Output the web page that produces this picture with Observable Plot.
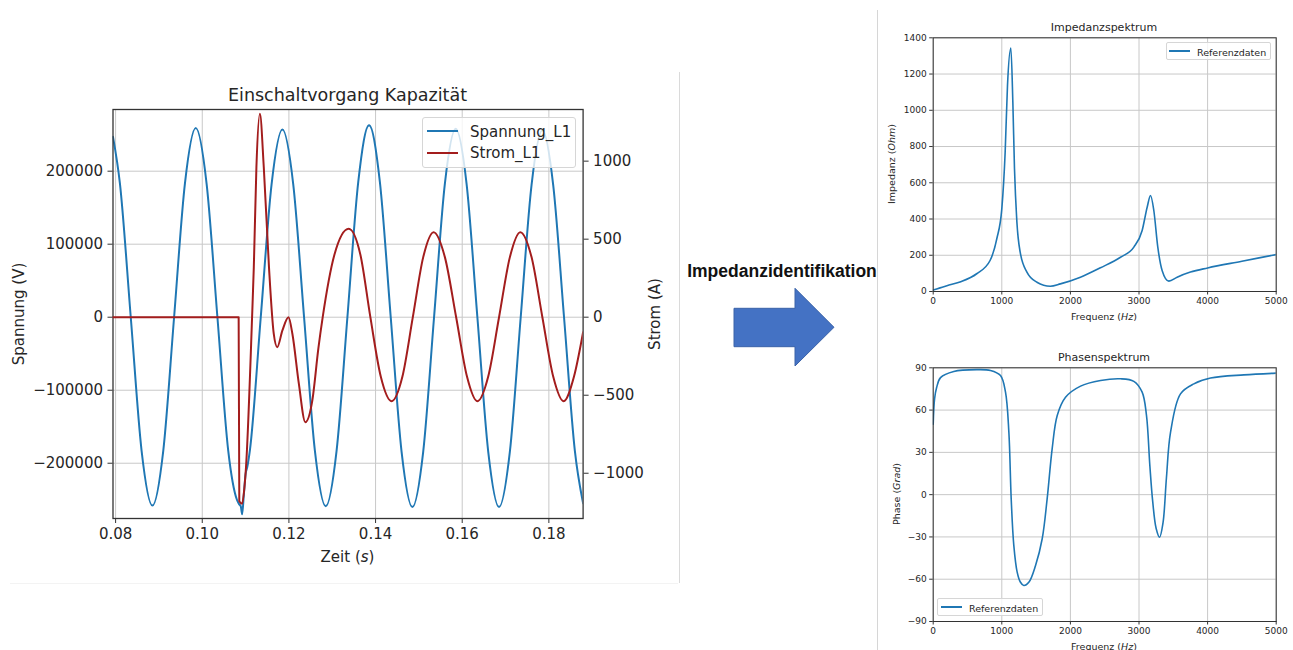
<!DOCTYPE html>
<html>
<head>
<meta charset="utf-8">
<script src="https://cdn.jsdelivr.net/npm/d3@7"></script>
<script src="https://cdn.jsdelivr.net/npm/@observablehq/plot@0.6"></script>
<style>
  html, body { margin: 0; padding: 0; background: #fff; }
  #root { position: relative; width: 1293px; height: 650px; overflow: hidden; font-family: "DejaVu Sans", sans-serif; color: #262626; }
  .abs { position: absolute; }
  .ctr { transform: translate(-50%, -50%); white-space: nowrap; }
  .rot { transform: translate(-50%, -50%) rotate(-90deg); white-space: nowrap; }
  .leg { position: absolute; background: rgba(255,255,255,0.8); border: 1px solid #d6d6d6; border-radius: 3px; box-sizing: border-box; }
  .legline { position: absolute; }
  .legtext { position: absolute; white-space: nowrap; transform: translateY(-50%); }
</style>
</head>
<body>
<div id="root">
  <!-- separators -->
  <div class="abs" style="left:678.5px;top:72px;width:1.5px;height:511px;background:#dadada"></div>
  <div class="abs" style="left:10px;top:582.5px;width:668px;height:1px;background:#f3f3f3"></div>
  <div class="abs" style="left:876.5px;top:10px;width:1.5px;height:640px;background:#d6d6d6"></div>

  <div id="left1" class="abs" style="left:0;top:0;width:700px;height:560px"></div>
  <div id="left2" class="abs" style="left:0;top:0;width:700px;height:560px"></div>
  <div id="rt" class="abs" style="left:860px;top:0;width:433px;height:330px"></div>
  <div id="rb" class="abs" style="left:860px;top:330px;width:433px;height:320px"></div>

  <!-- left chart texts -->
  <div class="abs ctr" style="left:347.5px;top:95px;font-size:17.5px">Einschaltvorgang Kapazität</div>
  <div class="abs rot" style="left:19px;top:314px;font-size:15px">Spannung (V)</div>
  <div class="abs rot" style="left:655px;top:314px;font-size:15px">Strom (A)</div>
  <div class="abs ctr" style="left:347.5px;top:557px;font-size:15px">Zeit (<i>s</i>)</div>
  <div class="leg" style="left:422px;top:117px;width:154px;height:51px">
    <div class="legline" style="left:4px;top:12px;width:31px;height:2px;background:#1f77b4"></div>
    <div class="legtext" style="left:47px;top:13.5px;font-size:15px">Spannung_L1</div>
    <div class="legline" style="left:4px;top:33.5px;width:31px;height:2px;background:#a31d1d"></div>
    <div class="legtext" style="left:47px;top:35px;font-size:15px">Strom_L1</div>
  </div>

  <!-- arrow -->
  <div class="abs ctr" style="left:782px;top:271px;font-family:'Liberation Sans',Arial,sans-serif;font-weight:bold;font-size:17.5px;color:#111">Impedanzidentifikation</div>
  <svg class="abs" style="left:730px;top:280px" width="110" height="92">
    <polygon points="4,28.3 65,28.3 65,8.3 104,47.3 65,86 65,66.7 4,66.7" fill="#4472c4" stroke="#3a62a8" stroke-width="1"/>
  </svg>

  <!-- right top texts -->
  <div class="abs ctr" style="left:1104px;top:27px;font-size:11px">Impedanzspektrum</div>
  <div class="abs rot" style="left:891px;top:164px;font-size:9.5px">Impedanz (<i>Ohm</i>)</div>
  <div class="abs ctr" style="left:1104px;top:316px;font-size:9.5px">Frequenz (<i>Hz</i>)</div>
  <div class="leg" style="left:1166px;top:42px;width:105px;height:18px;border-radius:2px">
    <div class="legline" style="left:2px;top:7px;width:21px;height:1.6px;background:#1f77b4"></div>
    <div class="legtext" style="left:30px;top:8.5px;font-size:9.5px">Referenzdaten</div>
  </div>

  <!-- right bottom texts -->
  <div class="abs ctr" style="left:1104px;top:357px;font-size:11px">Phasenspektrum</div>
  <div class="abs rot" style="left:896px;top:494px;font-size:9.5px">Phase (<i>Grad</i>)</div>
  <div class="abs ctr" style="left:1104px;top:646px;font-size:9.5px">Frequenz (<i>Hz</i>)</div>
  <div class="leg" style="left:937px;top:598px;width:106px;height:18px;border-radius:2px">
    <div class="legline" style="left:2.5px;top:7px;width:21px;height:1.6px;background:#1f77b4"></div>
    <div class="legtext" style="left:31px;top:8.5px;font-size:9.5px">Referenzdaten</div>
  </div>
</div>

<script>
// ---------- data: transient (left chart) ----------
const timeTicks = [0.08, 0.10, 0.12, 0.14, 0.16, 0.18];
const voltTicks = [-200000, -100000, 0, 100000, 200000];
const currentTicks = [-1000, -500, 0, 500, 1000];

const voltTime = [0.0794, 0.0810, 0.0835, 0.0860, 0.0885, 0.0910, 0.0935, 0.0960, 0.0985, 0.1010,
  0.1035, 0.1060, 0.1080, 0.1085, 0.1089, 0.1092, 0.1096, 0.1100, 0.1104, 0.1110,
  0.1135, 0.1160, 0.1185, 0.1210, 0.1235, 0.1260, 0.1285, 0.1310, 0.1335, 0.1360,
  0.1385, 0.1410, 0.1435, 0.1460, 0.1485, 0.1510, 0.1535, 0.1560, 0.1585, 0.1610,
  0.1635, 0.1660, 0.1685, 0.1710, 0.1735, 0.1760, 0.1785, 0.1810, 0.1835, 0.1860, 0.1879];
const voltValue = [247000, 183000, 0, -183000, -258000, -183000, 0, 183000, 259000, 183000,
  0, -183000, -250000, -256000, -259000, -270000, -243000, -215000, -205000, -182000,
  0, 182000, 257000, 182000, 0, -183000, -259000, -183000, 0, 185000,
  263000, 185000, 0, -184000, -260000, -184000, 0, 183000, 258000, 183000,
  0, -184000, -260000, -184000, 0, 181000, 256000, 181000, 0, -183000, -255000];

const currentTime = [0.0794, 0.1084, 0.10855, 0.1092, 0.1097, 0.1101, 0.1115, 0.1119, 0.1125, 0.1133,
  0.1142, 0.1154, 0.1165, 0.1173, 0.1185, 0.1199, 0.1208, 0.1223, 0.1238, 0.1254,
  0.1268, 0.1278, 0.1305, 0.1338, 0.1365, 0.1388, 0.1412, 0.1437, 0.1462, 0.1486,
  0.1510, 0.1534, 0.1560, 0.1586, 0.1611, 0.1635, 0.1660, 0.1685, 0.1710, 0.1734,
  0.1760, 0.1785, 0.1810, 0.1834, 0.1858, 0.1879];
const currentValue = [0, 0, -1180, -1195, -1100, -960, 0, 321, 962, 1304,
  962, 321, -106, -192, -85, 0, -106, -427, -673, -534,
  -200, 0, 400, 567, 400, 0, -380, -538, -380, 0,
  385, 545, 385, 0, -380, -538, -380, 0, 385, 545,
  385, 0, -380, -538, -380, -96];

// ---------- data: impedance spectrum ----------
const freqTicks = [0, 1000, 2000, 3000, 4000, 5000];
const impTicks = [0, 200, 400, 600, 800, 1000, 1200, 1400];
const impFreq = [0, 100, 200, 390, 634, 829, 927, 1000, 1049, 1083,
  1132, 1161, 1185, 1220, 1268, 1366, 1512, 1707, 1854, 2146,
  2439, 2730, 2925, 3046, 3119, 3168, 3216, 3274, 3337, 3435,
  3556, 3750, 4000, 4500, 5000];
const impValue = [8, 20, 32, 53, 98, 171, 291, 456, 769, 1137,
  1343, 1045, 677, 383, 217, 107, 51, 29, 42, 79,
  131, 189, 245, 337, 465, 530, 447, 245, 116, 57,
  79, 107, 130, 167, 204];

// ---------- data: phase spectrum ----------
const phaseTicks = [-90, -60, -30, 0, 30, 60, 90];
const phaseFreq = [0, 20, 50, 107, 300, 640, 835, 981, 1054, 1103,
  1137, 1175, 1224, 1270, 1321, 1394, 1492, 1589, 1661, 1734,
  1808, 1929, 2148, 2440, 2731, 2925, 3046, 3109, 3158, 3200,
  3250, 3300, 3350, 3400, 3460, 3605, 3800, 4043, 4529, 5000];
const phaseValue = [50, 68, 76, 83, 87.4, 88.7, 88.1, 84.5, 72.7, 44.3,
  -3, -36, -55, -62, -64.5, -62.2, -50.3, -31.3, -3, 32.5,
  56.2, 69.1, 77, 81, 82.2, 80.4, 72.7, 56.2, 20.7, -5,
  -24, -30.2, -20, 12, 44.3, 71.5, 78.6, 82.7, 85, 86.2];

// ---------- build ----------
const volt = voltTime.map((t, i) => ({t, v: voltValue[i]}));
const current = currentTime.map((t, i) => ({t, a: currentValue[i]}));
const imp = impFreq.map((f, i) => ({f, z: impValue[i]}));
const phase = phaseFreq.map((f, i) => ({f, p: phaseValue[i]}));

const blue = "#1f77b4";
const red = "#a31d1d";
const gridStyle = {stroke: "#c8c8c8", strokeOpacity: 1, strokeWidth: 1};
const fmtInt = d3.format("d");

const leftStyle = {fontFamily: "DejaVu Sans", fontSize: "15px", color: "#262626", background: "none", overflow: "visible"};
const leftDims = {width: 700, height: 560, marginLeft: 112.5, marginRight: 117.4, marginTop: 109, marginBottom: 42};
const xDomain = [0.0794, 0.1879];

const p1 = Plot.plot({
  ...leftDims,
  style: leftStyle,
  x: {domain: xDomain},
  y: {domain: [-275700, 284500]},
  marks: [
    Plot.gridX(timeTicks, gridStyle),
    Plot.gridY(voltTicks, gridStyle),
    Plot.line(volt, {x: "t", y: "v", stroke: blue, strokeWidth: 2, curve: "monotone-x", clip: true}),
    Plot.frame({stroke: "#333", strokeWidth: 1.3}),
    Plot.axisX(timeTicks, {tickFormat: d3.format(".2f"), tickSize: 5, tickPadding: 5, label: null, stroke: "#333"}),
    Plot.axisY(voltTicks, {tickFormat: fmtInt, tickSize: 5, tickPadding: 5, label: null, stroke: "#333"})
  ]
});
document.getElementById("left1").append(p1);

const p2 = Plot.plot({
  ...leftDims,
  style: leftStyle,
  x: {domain: xDomain, axis: null},
  y: {domain: [-1290, 1331]},
  marks: [
    Plot.line(current, {x: "t", y: "a", stroke: red, strokeWidth: 2, curve: "monotone-x", clip: true}),
    Plot.axisY(currentTicks, {anchor: "right", tickFormat: fmtInt, tickSize: 5, tickPadding: 5, label: null, stroke: "#333"})
  ]
});
document.getElementById("left2").append(p2);

const rightStyle = {fontFamily: "DejaVu Sans", fontSize: "9px", color: "#262626", background: "none", overflow: "visible"};

const p3 = Plot.plot({
  width: 433, height: 330, marginLeft: 72.7, marginRight: 17.3, marginTop: 37.3, marginBottom: 39,
  style: rightStyle,
  x: {domain: [0, 5000]},
  y: {domain: [0, 1400]},
  marks: [
    Plot.gridX(freqTicks, gridStyle),
    Plot.gridY(impTicks, gridStyle),
    Plot.line(imp, {x: "f", y: "z", stroke: blue, strokeWidth: 1.6, curve: "monotone-x", clip: true}),
    Plot.frame({stroke: "#333", strokeWidth: 1}),
    Plot.axisX(freqTicks, {tickFormat: fmtInt, tickSize: 3.5, tickPadding: 3, label: null, stroke: "#333"}),
    Plot.axisY(impTicks, {tickFormat: fmtInt, tickSize: 3.5, tickPadding: 3, label: null, stroke: "#333"})
  ]
});
document.getElementById("rt").append(p3);

const p4 = Plot.plot({
  width: 433, height: 320, marginLeft: 72.7, marginRight: 17.3, marginTop: 37.3, marginBottom: 29,
  style: rightStyle,
  x: {domain: [0, 5000]},
  y: {domain: [-90, 90]},
  marks: [
    Plot.gridX(freqTicks, gridStyle),
    Plot.gridY(phaseTicks, gridStyle),
    Plot.line(phase, {x: "f", y: "p", stroke: blue, strokeWidth: 1.6, curve: "catmull-rom", clip: true}),
    Plot.frame({stroke: "#333", strokeWidth: 1}),
    Plot.axisX(freqTicks, {tickFormat: fmtInt, tickSize: 3.5, tickPadding: 3, label: null, stroke: "#333"}),
    Plot.axisY(phaseTicks, {tickFormat: fmtInt, tickSize: 3.5, tickPadding: 3, label: null, stroke: "#333"})
  ]
});
document.getElementById("rb").append(p4);
</script>
</body>
</html>
